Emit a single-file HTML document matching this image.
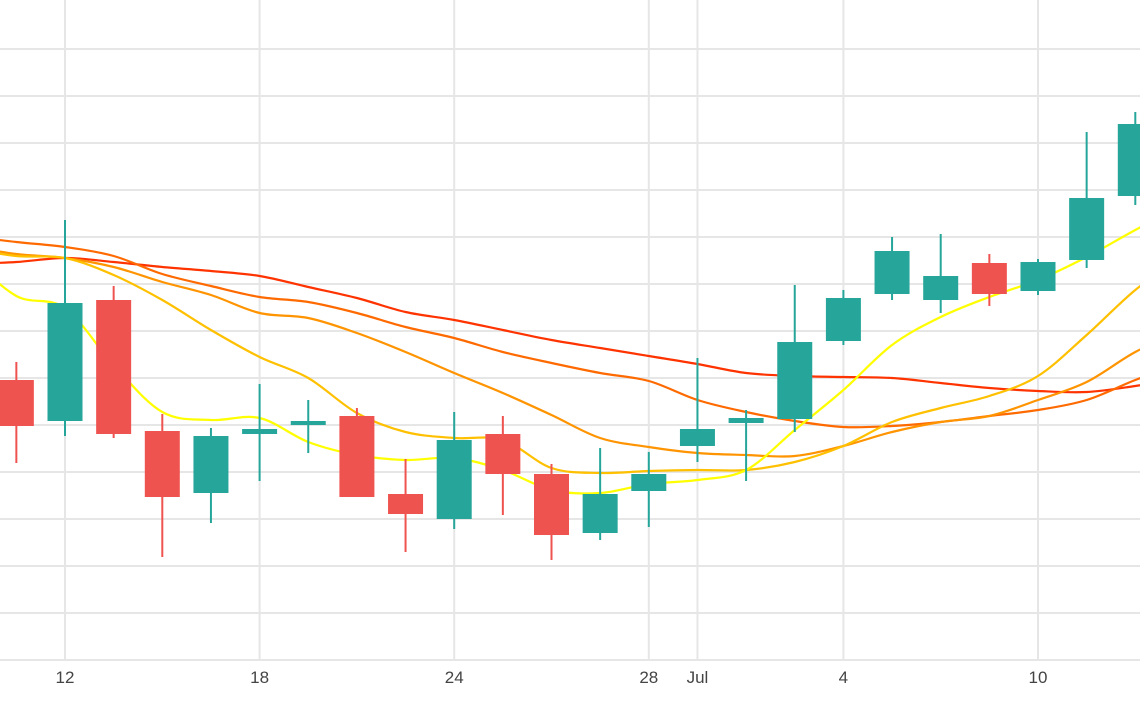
<!DOCTYPE html>
<html><head><meta charset="utf-8"><style>
html,body{margin:0;padding:0;background:#fff;width:1140px;height:710px;overflow:hidden}
svg{display:block;font-family:"Liberation Sans",sans-serif}
</style></head><body>
<svg id="chart" width="1140" height="710" viewBox="0 0 1140 710" xmlns="http://www.w3.org/2000/svg">
<g id="grid"></g>
<g id="mas"></g>
<g id="candles"></g>
<g id="xaxis"></g>
</svg>
<script>
const opens  = [280,239,360,229,167,226,235,244,166,141,226,186,127,169,214,237,241,319,366,360,397,369,400,464];
const highs  = [298,440,374,246,232,276,260,252,201,248,244,196,212,208,302,250,375,370,423,426,406,401,528,548];
const lows   = [197,224,222,103,137,179,207,163,108,131,145,100,120,133,198,179,228,315,360,347,354,365,392,455];
const closes = [234,357,226,163,224,231,239,163,146,220,186,125,166,186,231,242,318,362,409,384,366,398,462,536];
// moving averages for indices -1 .. 24
const maYellow = [405,364,352,295,248,240,242,218,205,200,202,190,170,167,176,180,190,230,270,315,343,363,380,403,430,455];
const maGold   = [412,404,402,385,360,330,303,282,247,228,222,220,192,187,189,190,190,198,214,238,252,264,284,325,370,405];
const maOrange = [414,406,402,393,378,365,347,342,327,308,287,267,245,222,213,207,205,204,214,228,238,244,260,278,308,330];
const maOrRed  = [424,418,413,404,386,374,363,358,347,333,322,308,297,287,279,260,248,239,233,234,238,244,250,260,280,298];
const maRed    = [396,398,402,398,393,389,384,373,362,348,340,330,320,312,304,296,287,284,283,282,277,272,269,268,274,282];
const tickLabels = ["12","18","24","28","Jul","4","10"];
const tickIndex  = [1,5,9,13,14,17,21];
const yTicks = [0,47,94,141,188,235,282,329,376,423,470,517,564,611];

const NS="http://www.w3.org/2000/svg";
const step=48.65, x0=65-step;
const X=i=>x0+i*step;
const Y=v=>660-v;
function mk(tag,attrs,parent){const e=document.createElementNS(NS,tag);for(const k in attrs)e.setAttribute(k,attrs[k]);parent.appendChild(e);return e;}
const grid=document.getElementById('grid');
yTicks.forEach(v=>{
  const l=mk('line',{x1:0,x2:1140,y1:Y(v),y2:Y(v),stroke:'#e6e6e6','stroke-width':2},grid);
  
  
});
const xa=document.getElementById('xaxis');
tickIndex.forEach((ti,k)=>{
  const l=mk('line',{x1:X(ti),x2:X(ti),y1:0,y2:660,stroke:'#e6e6e6','stroke-width':2},grid);
  
  
  const t=mk('text',{x:X(ti),y:683,'text-anchor':'middle','font-size':17,fill:'#444'},xa);
  t.textContent=tickLabels[k];
  
  
});
function smooth(pts){
  let d=`M${pts[0][0]},${pts[0][1]}`;
  for(let i=0;i<pts.length-1;i++){
    const p0=pts[i-1]||pts[i],p1=pts[i],p2=pts[i+1],p3=pts[i+2]||p2;
    const c1=[p1[0]+(p2[0]-p0[0])/6,p1[1]+(p2[1]-p0[1])/6];
    const c2=[p2[0]-(p3[0]-p1[0])/6,p2[1]-(p3[1]-p1[1])/6];
    d+=`C${c1[0]},${c1[1]} ${c2[0]},${c2[1]} ${p2[0]},${p2[1]}`;
  }
  return d;
}
const mas=document.getElementById('mas');
[[maRed,'#ff3300','ma-red'],[maOrRed,'#ff6a00','ma-orange-red'],[maOrange,'#ff9400','ma-orange'],[maGold,'#ffc000','ma-gold'],[maYellow,'#ffff00','ma-yellow']].forEach(([arr,col,nm])=>{
  const pts=arr.map((v,k)=>[X(k-1),Y(v)]);
  const p=mk('path',{d:smooth(pts),fill:'none',stroke:col,'stroke-width':2.2},mas);
  
  
});
const cg=document.getElementById('candles');
opens.forEach((o,i)=>{
  const c=closes[i],up=c>=o,col=up?'#26a69a':'#ef5350',x=X(i);
  const g=mk('g',{},cg);
  
  
  mk('line',{x1:x,x2:x,y1:Y(highs[i]),y2:Y(lows[i]),stroke:col,'stroke-width':2},g);
  const top=Y(Math.max(o,c)),h=Math.max(Math.abs(o-c),2);
  mk('rect',{x:x-17.5,y:top,width:35,height:h,fill:col},g);
});
</script>
</body></html>
